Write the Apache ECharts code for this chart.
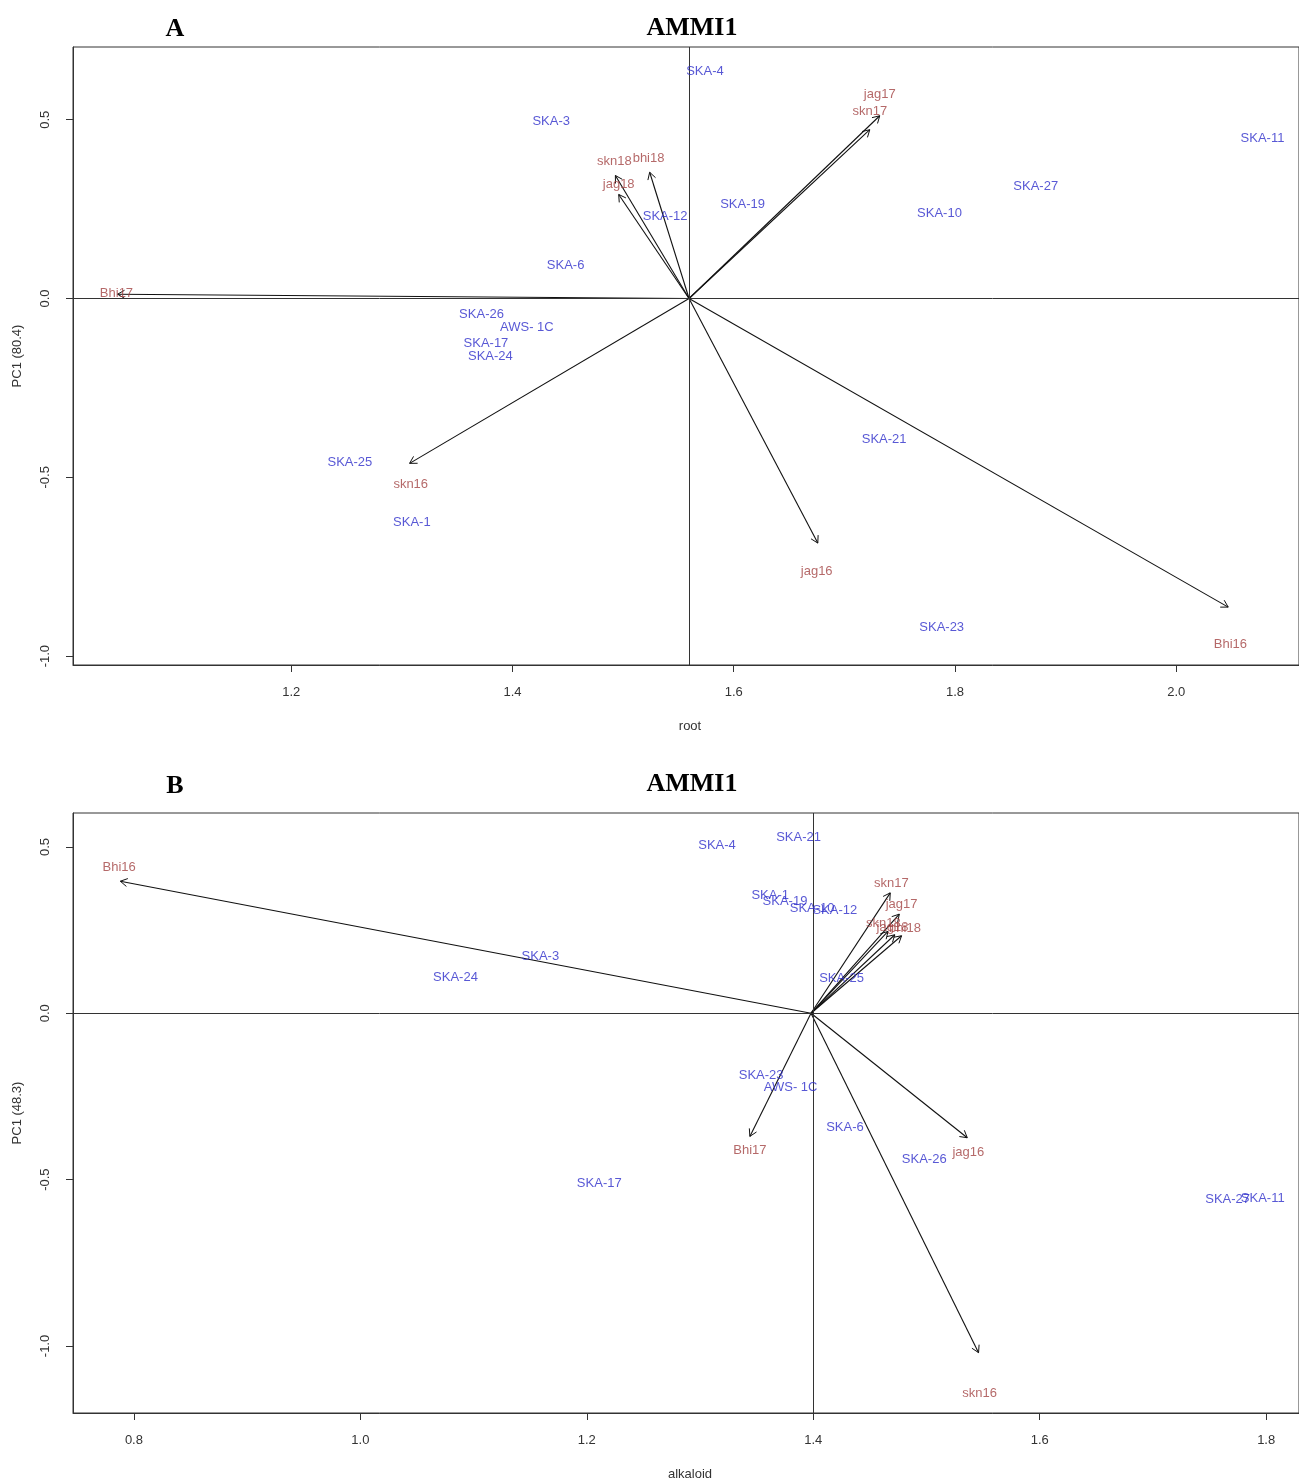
<!DOCTYPE html>
<html>
<head>
<meta charset="utf-8">
<script src="https://cdn.jsdelivr.net/npm/echarts@6.0.0/dist/echarts.min.js"></script>
<style>
html,body{margin:0;padding:0;background:#fff;}
#chart{width:1299px;height:1482px;}
</style>
</head>
<body>
<div id="chart"></div>
<script>
// ---------- Panel A : root ----------
const rootMean = 1.5596;
const genotypesA = ['SKA-4','SKA-3','SKA-11','SKA-27','SKA-10','SKA-19','SKA-12','SKA-6','SKA-26','AWS- 1C','SKA-17','SKA-24','SKA-21','SKA-25','SKA-1','SKA-23'];
const rootA      = [1.574, 1.435, 2.078, 1.873, 1.786, 1.608, 1.538, 1.448, 1.372, 1.413, 1.376, 1.380, 1.736, 1.253, 1.309, 1.788];
const pc1GenoA   = [0.634, 0.494, 0.447, 0.313, 0.237, 0.263, 0.229, 0.092, -0.045, -0.081, -0.126, -0.162, -0.394, -0.458, -0.626, -0.919];

const envA       = ['Bhi16','jag16','skn16','Bhi17','jag17','skn17','bhi18','skn18','jag18'];
const envTipXA   = [2.047, 1.676, 1.307, 1.043, 1.732, 1.723, 1.524, 1.493, 1.496];
const envTipYA   = [-0.863, -0.684, -0.461, 0.012, 0.511, 0.472, 0.353, 0.344, 0.291];
const envLabXA   = [2.049, 1.675, 1.308, 1.042, 1.732, 1.723, 1.523, 1.492, 1.496];
const envLabYA   = [-0.966, -0.763, -0.520, 0.013, 0.570, 0.522, 0.392, 0.383, 0.320];

// ---------- Panel B : alkaloid ----------
const alkMean = 1.398;
const genotypesB = ['SKA-4','SKA-21','SKA-1','SKA-19','SKA-10','SKA-12','SKA-25','SKA-3','SKA-24','SKA-23','AWS- 1C','SKA-6','SKA-26','SKA-17','SKA-27','SKA-11'];
const alkB       = [1.315, 1.387, 1.362, 1.375, 1.399, 1.419, 1.425, 1.159, 1.084, 1.354, 1.380, 1.428, 1.498, 1.211, 1.766, 1.797];
const pc1GenoB   = [0.504, 0.530, 0.353, 0.335, 0.316, 0.308, 0.105, 0.172, 0.109, -0.188, -0.222, -0.344, -0.438, -0.510, -0.559, -0.556];

const envB       = ['Bhi16','skn17','jag17','skn18','jag18','bhi18','Bhi17','jag16','skn16'];
const envTipXB   = [0.788, 1.468, 1.476, 1.466, 1.472, 1.478, 1.344, 1.536, 1.546];
const envTipYB   = [0.397, 0.362, 0.298, 0.246, 0.236, 0.233, -0.370, -0.374, -1.020];
const envLabXB   = [0.787, 1.469, 1.478, 1.462, 1.470, 1.481, 1.344, 1.537, 1.547];
const envLabYB   = [0.439, 0.389, 0.326, 0.271, 0.259, 0.256, -0.413, -0.418, -1.143];

// tick labels
const xTicksA = [1.2, 1.4, 1.6, 1.8, 2.0];
const xTicksB = [0.8, 1.0, 1.2, 1.4, 1.6, 1.8];
const yTicksA = [-1.0, -0.5, 0.0, 0.5];
const yTicksB = [-1.0, -0.5, 0.0, 0.5];

const GENO_COLOR = '#2e2ecb';
const ENV_COLOR  = '#a34444';
const AXIS_COLOR = '#333';
const FONT = 'Liberation Sans, Arial, sans-serif';

function pts(names, xs, ys) {
  return names.map((n, i) => ({ name: n, value: [xs[i], ys[i]] }));
}

function arrowRender(meanVal) {
  return function (params, api) {
    const p0 = api.coord([meanVal, 0]);
    const p1 = api.coord([api.value(0), api.value(1)]);
    const ang = Math.atan2(p1[1] - p0[1], p1[0] - p0[0]);
    const L = 8, a = Math.PI / 6;
    const h1 = [p1[0] - L * Math.cos(ang - a), p1[1] - L * Math.sin(ang - a)];
    const h2 = [p1[0] - L * Math.cos(ang + a), p1[1] - L * Math.sin(ang + a)];
    return {
      type: 'group',
      children: [
        { type: 'line', shape: { x1: p0[0], y1: p0[1], x2: p1[0], y2: p1[1] }, style: { stroke: '#111', lineWidth: 1.1 } },
        { type: 'polyline', shape: { points: [h1, p1, h2] }, style: { stroke: '#111', fill: null, lineWidth: 1 } }
      ]
    };
  };
}

function xAxisDef(idx, min, max, ticks, name) {
  return {
    type: 'value', gridIndex: idx, min: min, max: max,
    name: name, nameLocation: 'middle', nameGap: 55,
    nameTextStyle: { color: AXIS_COLOR, fontSize: 13, fontFamily: FONT, padding: [0, 0, 0, 8] },
    axisLine: { show: true, onZero: false, lineStyle: { color: AXIS_COLOR, width: 1 } },
    axisTick: { show: true, customValues: ticks, length: 7, lineStyle: { color: AXIS_COLOR } },
    axisLabel: { customValues: ticks, formatter: v => v.toFixed(1), color: AXIS_COLOR, fontSize: 13, fontFamily: FONT, margin: 21 },
    splitLine: { show: false }
  };
}
function yAxisDef(idx, min, max, ticks, name) {
  return {
    type: 'value', gridIndex: idx, min: min, max: max,
    name: name, nameLocation: 'middle', nameGap: 49, nameRotate: 90,
    nameTextStyle: { color: AXIS_COLOR, fontSize: 13, fontFamily: FONT },
    axisLine: { show: true, onZero: false, lineStyle: { color: AXIS_COLOR, width: 1 } },
    axisTick: { show: true, customValues: ticks, length: 7, lineStyle: { color: AXIS_COLOR } },
    axisLabel: { customValues: ticks, formatter: v => v.toFixed(1), rotate: 90, color: AXIS_COLOR, fontSize: 13, fontFamily: FONT, margin: 21 },
    splitLine: { show: false }
  };
}

function labelSeries(idx, data, color, withRefLines, meanVal) {
  const s = {
    type: 'scatter', xAxisIndex: idx, yAxisIndex: idx,
    data: data, symbolSize: 1, itemStyle: { color: 'rgba(0,0,0,0)' },
    label: { show: true, position: 'inside', formatter: '{b}', color: color, fontSize: 13, fontFamily: FONT },
    silent: true, animation: false, z: 5
  };
  if (withRefLines) {
    s.markLine = {
      silent: true, symbol: ['none', 'none'], animation: false,
      label: { show: false },
      lineStyle: { color: AXIS_COLOR, type: 'solid', width: 1 },
      data: [{ xAxis: meanVal }, { yAxis: 0 }]
    };
  }
  return s;
}

const chart = echarts.init(document.getElementById('chart'), null, { renderer: 'canvas' });
chart.setOption({
  backgroundColor: '#fff',
  animation: false,
  grid: [
    { left: 73, top: 47, width: 1228, height: 618, show: true, borderColor: AXIS_COLOR, borderWidth: 1, backgroundColor: 'transparent' },
    { left: 73, top: 813, width: 1228, height: 600, show: true, borderColor: AXIS_COLOR, borderWidth: 1, backgroundColor: 'transparent' }
  ],
  xAxis: [
    xAxisDef(0, 1.0027, 2.111, xTicksA, 'root'),
    xAxisDef(1, 0.7462, 1.829, xTicksB, 'alkaloid')
  ],
  yAxis: [
    yAxisDef(0, -1.0249, 0.7033, yTicksA, 'PC1 (80.4)'),
    yAxisDef(1, -1.2014, 0.602, yTicksB, 'PC1 (48.3)')
  ],
  graphic: [
    { type: 'text', x: 175, y: 29, style: { text: 'A', font: 'bold 26px "Liberation Serif", "Times New Roman", serif', fill: '#000', textAlign: 'center', textVerticalAlign: 'middle' } },
    { type: 'text', x: 692, y: 28, style: { text: 'AMMI1', font: 'bold 26px "Liberation Serif", "Times New Roman", serif', fill: '#000', textAlign: 'center', textVerticalAlign: 'middle' } },
    { type: 'text', x: 175, y: 786, style: { text: 'B', font: 'bold 26px "Liberation Serif", "Times New Roman", serif', fill: '#000', textAlign: 'center', textVerticalAlign: 'middle' } },
    { type: 'text', x: 692, y: 784, style: { text: 'AMMI1', font: 'bold 26px "Liberation Serif", "Times New Roman", serif', fill: '#000', textAlign: 'center', textVerticalAlign: 'middle' } }
  ],
  series: [
    {
      type: 'custom', xAxisIndex: 0, yAxisIndex: 0, renderItem: arrowRender(rootMean),
      data: envTipXA.map((x, i) => [x, envTipYA[i]]), silent: true, animation: false, z: 3
    },
    labelSeries(0, pts(genotypesA, rootA, pc1GenoA), GENO_COLOR, true, rootMean),
    labelSeries(0, pts(envA, envLabXA, envLabYA), ENV_COLOR, false),
    {
      type: 'custom', xAxisIndex: 1, yAxisIndex: 1, renderItem: arrowRender(alkMean),
      data: envTipXB.map((x, i) => [x, envTipYB[i]]), silent: true, animation: false, z: 3
    },
    labelSeries(1, pts(genotypesB, alkB, pc1GenoB), GENO_COLOR, true, alkMean),
    labelSeries(1, pts(envB, envLabXB, envLabYB), ENV_COLOR, false)
  ]
});
</script>
</body>
</html>
